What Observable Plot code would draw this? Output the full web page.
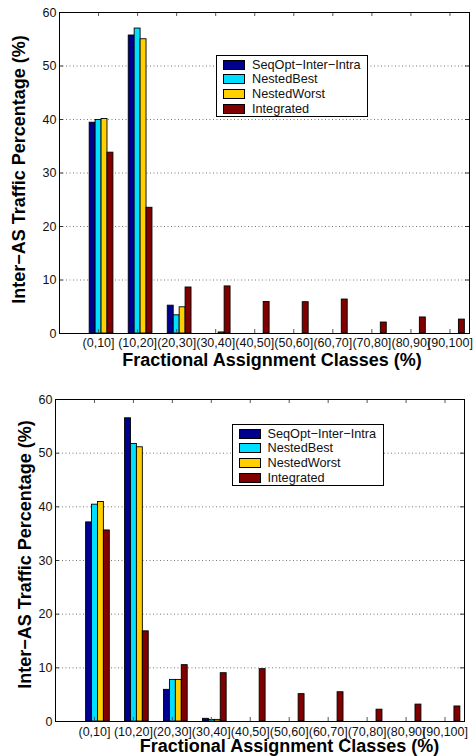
<!DOCTYPE html>
<html>
<head>
<meta charset="utf-8">
<script src="https://cdn.jsdelivr.net/npm/d3@7"></script>
<script src="https://cdn.jsdelivr.net/npm/@observablehq/plot@0.6"></script>
<style>
  html, body { margin: 0; padding: 0; background: #fff; }
  #root { position: relative; width: 476px; height: 756px; overflow: hidden; font-family: "Liberation Sans", Arial, Helvetica, sans-serif; }
  .panel { position: absolute; left: 0; width: 476px; height: 378px; }
  .legend { position: absolute; background: #fff; border: 1px solid #000; box-sizing: border-box; width: 152px; height: 62px; }
  .legend .row { position: absolute; left: 0; height: 14px; width: 150px; }
  .legend .sw { position: absolute; left: 6px; top: 2px; width: 22px; height: 10px; box-sizing: border-box; border: 1px solid #000; }
  .legend .lb { position: absolute; left: 35px; top: 0; font-size: 12.7px; line-height: 14px; color: #111; white-space: nowrap; }
</style>
</head>
<body>
<div id="root"></div>
<script>
// ---------- data ----------
const categories = ["(0,10]", "(10,20]", "(20,30]", "(30,40]", "(40,50]", "(50,60]", "(60,70]", "(70,80]", "(80,90]", "(90,100]"];
const seriesNames = ["SeqOpt\u2212Inter\u2212Intra", "NestedBest", "NestedWorst", "Integrated"];
const seriesColors = ["#00008F", "#00DFFF", "#FFCF00", "#800000"];
const yTicks = [0, 10, 20, 30, 40, 50, 60];
const xLabel = "Fractional Assignment Classes (%)";
const yLabel = "Inter\u2212AS Traffic Percentage (%)";

// top panel
const topSeqOpt     = [39.4, 55.7, 5.2, 0,   0,    0,    0,    0,    0,    0];
const topNestedBest = [39.9, 57.0, 3.4, 0,   0,    0,    0,    0,    0,    0];
const topNestedWorst= [40.1, 55.0, 4.9, 0.2, 0,    0,    0,    0,    0,    0];
const topIntegrated = [33.8, 23.5, 8.6, 8.8, 5.9,  5.85, 6.35, 2.05, 3.0,  2.6];

// bottom panel
const botSeqOpt     = [37.1, 56.5, 5.9, 0.5, 0,    0,    0,    0,    0,    0];
const botNestedBest = [40.4, 51.7, 7.75, 0.3, 0,   0,    0,    0,    0,    0];
const botNestedWorst= [40.9, 51.1, 7.75, 0.3, 0,   0,    0,    0,    0,    0];
const botIntegrated = [35.6, 16.8, 10.5, 9.0, 9.75, 5.1, 5.45, 2.2, 3.15, 2.8];

// ---------- build ----------
function rows(seriesArrays) {
  const out = [];
  seriesArrays.forEach((arr, j) => {
    arr.forEach((v, i) => {
      if (v > 0) out.push({i: i + 1, j, series: seriesNames[j], value: v});
    });
  });
  return out;
}

const barW = 0.152;
const font = "'Liberation Sans', Arial, Helvetica, sans-serif";

function panel(cfg) {
  const data = rows(cfg.series);
  const xTickIdx = categories.map((c, i) => i + 1);
  const fw = 476 - cfg.ml - cfg.mr;
  const fh = 378 - cfg.mt - cfg.mb;
  return Plot.plot({
    width: 476,
    height: 378,
    marginLeft: cfg.ml,
    marginRight: cfg.mr,
    marginTop: cfg.mt,
    marginBottom: cfg.mb,
    style: {fontFamily: font, fontSize: "12.5px", color: "#111", background: "white"},
    x: {domain: [0, 10.5], axis: null},
    y: {domain: [0, 60], axis: null},
    color: {domain: seriesNames, range: seriesColors},
    marks: [
      Plot.ruleY(yTicks, {y: d => d, stroke: "#777", strokeWidth: 1, strokeDasharray: "1,2.5"}),
      Plot.rectY(data, {
        x1: d => d.i + (d.j - 2) * barW,
        x2: d => d.i + (d.j - 1) * barW,
        y1: 0,
        y2: "value",
        fill: "series",
        stroke: "#000",
        strokeWidth: 0.9,
        dx: cfg.shift
      }),
      // inward ticks
      Plot.tickY(yTicks, {y: d => d, insetRight: fw - 4, stroke: "#333"}),
      Plot.tickY(yTicks, {y: d => d, insetLeft: fw - 4, stroke: "#333"}),
      Plot.tickX(xTickIdx, {x: d => d, insetTop: fh - 4, stroke: "#555"}),
      Plot.tickX(xTickIdx, {x: d => d, insetBottom: fh - 4, stroke: "#555"}),
      Plot.frame({stroke: "#000", strokeWidth: 1}),
      Plot.axisY(yTicks, {anchor: "left", tickSize: 0, tickPadding: 3, label: null, fontSize: 12.5}),
      Plot.axisX(xTickIdx, {anchor: "bottom", tickSize: 0, tickPadding: cfg.xpad, label: null,
        tickFormat: d => categories[d - 1], fontSize: 12.5}),
      Plot.text([xLabel], {frameAnchor: "bottom", text: d => d, textAnchor: "middle", lineAnchor: "middle",
        dx: cfg.xdx, dy: cfg.xdy, fontSize: 18, fontWeight: "bold", fill: "#000"}),
      Plot.text([yLabel], {frameAnchor: "left", text: d => d, rotate: -90, textAnchor: "middle", lineAnchor: "middle",
        dx: cfg.ydx, dy: cfg.ydy, fontSize: 18, fontWeight: "bold", fill: "#000"})
    ]
  });
}

function legend(left, top) {
  const box = document.createElement("div");
  box.className = "legend";
  box.style.left = left + "px";
  box.style.top = top + "px";
  seriesNames.forEach((name, k) => {
    const r = document.createElement("div");
    r.className = "row";
    r.style.top = (1.5 + k * 14.7) + "px";
    const sw = document.createElement("div");
    sw.className = "sw";
    sw.style.background = seriesColors[k];
    const lb = document.createElement("div");
    lb.className = "lb";
    lb.textContent = name;
    r.appendChild(sw);
    r.appendChild(lb);
    box.appendChild(r);
  });
  return box;
}

const root = document.getElementById("root");

const p1 = document.createElement("div");
p1.className = "panel";
p1.style.top = "0px";
p1.appendChild(panel({
  series: [topSeqOpt, topNestedBest, topNestedWorst, topIntegrated],
  ml: 59, mr: 7, mt: 12, mb: 45, shift: 3, xpad: 4.5,
  xdx: 7.5, xdy: 27, ydx: -40, ydy: -3.5
}));
root.appendChild(p1);
root.appendChild(legend(216, 55));

const p2 = document.createElement("div");
p2.className = "panel";
p2.style.top = "378px";
p2.appendChild(panel({
  series: [botSeqOpt, botNestedBest, botNestedWorst, botIntegrated],
  ml: 55, mr: 12, mt: 21, mb: 35, shift: 3.5, xpad: 5.5,
  xdx: 29.5, xdy: 25, ydx: -30, ydy: -6
}));
root.appendChild(p2);
root.appendChild(legend(231.5, 424));
</script>
</body>
</html>
